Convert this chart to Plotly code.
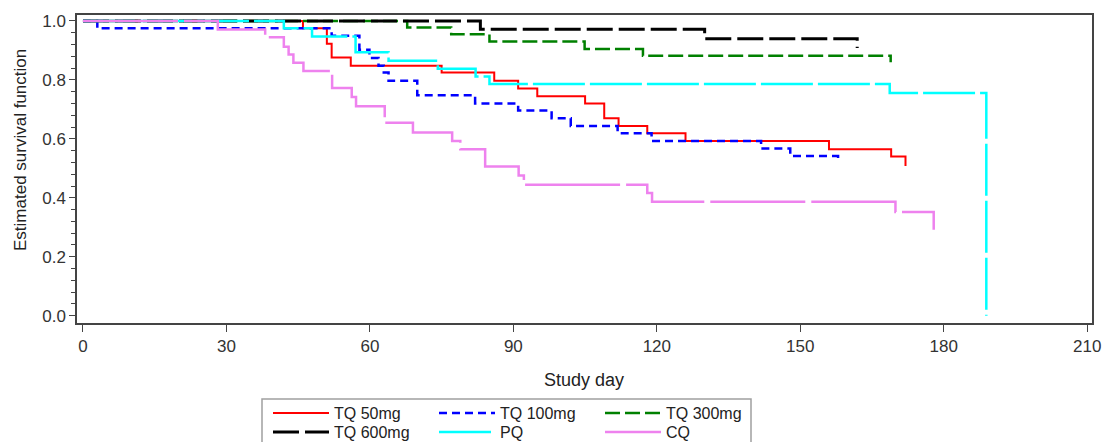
import plotly.graph_objects as go

# Kaplan-Meier step data: event days and survival after each step
tq50_days = [0, 46, 51, 52, 56, 75, 86, 91, 95, 105, 109, 112, 118, 126, 156, 169, 172]
tq50_surv = [1.0, 0.975, 0.923, 0.876, 0.848, 0.825, 0.797, 0.771, 0.745, 0.72, 0.67, 0.644, 0.619, 0.593, 0.565, 0.54, 0.508]

tq100_days = [0, 3, 52, 57.8, 59.9, 61.8, 62.9, 63.9, 69.9, 82, 91, 98, 102, 111.8, 118.9, 141.8, 147.9, 157.9]
tq100_surv = [1.0, 0.975, 0.95, 0.902, 0.874, 0.848, 0.825, 0.797, 0.748, 0.72, 0.696, 0.67, 0.644, 0.619, 0.593, 0.567, 0.542, 0.518]

tq300_days = [0, 67.8, 77, 85, 104.9, 117.1, 168.9]
tq300_surv = [1.0, 0.978, 0.955, 0.93, 0.905, 0.882, 0.86]

tq600_days = [0, 83.1, 130, 161.9]
tq600_surv = [1.0, 0.972, 0.94, 0.908]

pq_days = [0, 42, 47.9, 57, 63.9, 74.2, 82.1, 85, 168.7, 188.9]
pq_surv = [1.0, 0.975, 0.947, 0.894, 0.865, 0.838, 0.812, 0.786, 0.756, 0.0]

cq_days = [0, 28.2, 38.1, 42, 43, 44, 46.1, 52.1, 56.2, 57.1, 63.1, 69, 77.2, 78.9, 84.1, 91.1, 92.2, 118, 119, 169.9, 177.9]
cq_surv = [1.0, 0.971, 0.945, 0.913, 0.886, 0.858, 0.83, 0.773, 0.742, 0.711, 0.655, 0.622, 0.593, 0.565, 0.506, 0.476, 0.444, 0.416, 0.387, 0.352, 0.292]

x_ticks = [0, 30, 60, 90, 120, 150, 180, 210]
y_ticks = [0.0, 0.2, 0.4, 0.6, 0.8, 1.0]

# name, x, y, colour, dash, width, legend row
series = [
    ("TQ 50mg", tq50_days, tq50_surv, "#FF0000", "solid", 2, "legend"),
    ("TQ 100mg", tq100_days, tq100_surv, "#0000FF", "8px,5px", 2.5, "legend"),
    ("TQ 300mg", tq300_days, tq300_surv, "#008000", "15px,5px", 2.5, "legend"),
    ("TQ 600mg", tq600_days, tq600_surv, "#000000", "26px,6px", 3, "legend2"),
    ("PQ", pq_days, pq_surv, "#00FFFF", "52px,5px", 2.5, "legend2"),
    ("CQ", cq_days, cq_surv, "#EE82EE", "95px,6px", 2.5, "legend2"),
]

fig = go.Figure()
for name, xs, ys, color, dash, w, lg in series:
    fig.add_trace(go.Scatter(
        x=xs, y=ys, mode="lines", name=name, legend=lg,
        line=dict(color=color, dash=dash, width=w, shape="hv"),
    ))

font_family = "Liberation Sans, Arial, sans-serif"

W, H = 1104, 442
L, R, T, B = 77, 12, 15, 119
pw, ph = W - L - R, H - T - B

def px_to_paper(px, py):
    return (px - L) / pw, (H - B - py) / ph

ytx, yty = px_to_paper(20, 150)
xtx, xty = px_to_paper(584, 380)
bx0, by0 = px_to_paper(262, 399)
bx1, by1 = px_to_paper(751, 470)

legend_common = dict(
    orientation="h",
    xref="container", yref="container",
    x=268 / W, xanchor="left", yanchor="middle",
    entrywidth=95, entrywidthmode="pixels",
    borderwidth=0, bgcolor="rgba(0,0,0,0)",
    font=dict(family=font_family, size=16, color="#222222"),
    tracegroupgap=0, itemwidth=56,
)

fig.update_layout(
    width=W, height=H,
    margin=dict(l=L, r=R, t=T, b=B),
    paper_bgcolor="white", plot_bgcolor="white",
    font=dict(family=font_family, size=15, color="#333333"),
    showlegend=True,
    legend=dict(legend_common, y=1 - 413 / H),
    legend2=dict(legend_common, y=1 - 432 / H),
    xaxis=dict(
        range=[-1.25, 211.0], tickvals=x_ticks,
        ticktext=[str(v) for v in x_ticks],
        showgrid=False, zeroline=False, automargin=False,
        showline=True, linecolor="#444444", linewidth=1.5, mirror=True,
        ticks="outside", ticklen=7, tickcolor="#444444",
        tickfont=dict(size=17, color="#333333"),
    ),
    yaxis=dict(
        range=[-0.0247, 1.0203], tickvals=y_ticks,
        ticktext=[f"{v:.1f}" for v in y_ticks],
        showgrid=False, zeroline=False, automargin=False,
        showline=True, linecolor="#444444", linewidth=1.5, mirror=True,
        ticks="outside", ticklen=6, tickcolor="#444444",
        minor=dict(tickvals=[round(i * 0.04, 2) for i in range(26)], ticks="outside", ticklen=4, tickcolor="#444444"),
        tickfont=dict(size=17, color="#333333"),
    ),
    shapes=[
        dict(type="rect", xref="paper", yref="paper", x0=bx0, y0=by0, x1=bx1, y1=by1,
             line=dict(color="#A0A0A0", width=1.5), fillcolor="rgba(0,0,0,0)", layer="below"),
    ],
    annotations=[
        dict(text="Estimated survival function", x=ytx, y=yty, xref="paper", yref="paper",
             textangle=-90, showarrow=False, xanchor="center", yanchor="middle",
             font=dict(size=17, color="#222222")),
        dict(text="Study day", x=xtx, y=xty, xref="paper", yref="paper",
             showarrow=False, xanchor="center", yanchor="middle",
             font=dict(size=18, color="#222222")),
    ],
)

fig.write_html(
    "out.html",
    config={"displayModeBar": False},
    post_script="document.body.style.margin='0px';document.body.style.overflow='hidden';",
)
